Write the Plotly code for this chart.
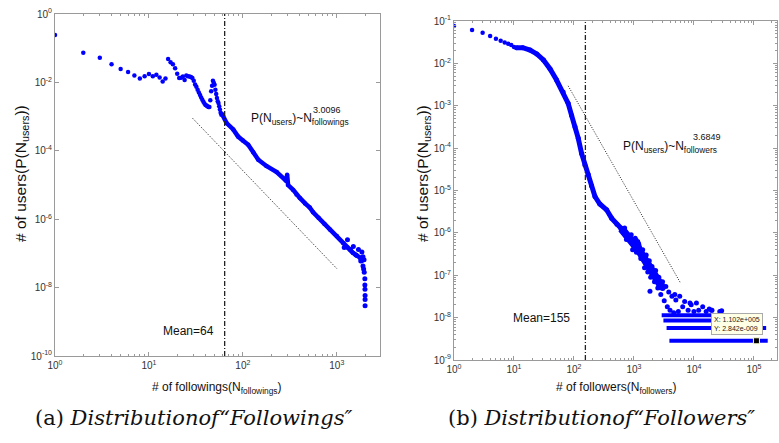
import plotly.graph_objects as go

# ---------------- data: (a) followings ----------------
fw_sparse_x = [1, 2, 3, 4, 5, 6, 7, 8, 9, 10, 11, 12, 13, 14, 15,
               16, 17, 18, 19, 20, 21, 22, 23, 24, 25, 26, 27, 28, 29, 30,
               31, 32, 33, 34, 35, 36, 37, 38, 39, 40, 41, 42, 43, 44,
               45, 46, 47, 48, 49, 50, 51, 52, 53, 54, 55, 56, 57, 58, 59]
fw_sparse_y = [0.245, 0.074, 0.053, 0.034, 0.0245, 0.020, 0.016, 0.0129, 0.0152, 0.0175,
               0.0152, 0.0166, 0.0139, 0.0106, 0.013,
               0.048, 0.039, 0.034, 0.026, 0.018, 0.0134, 0.0136, 0.0149, 0.0117, 0.0159,
               0.0152, 0.0149, 0.0145, 0.0135, 0.0112,
               0.0087, 0.0074, 0.0061, 0.0051, 0.0043, 0.0036, 0.0031, 0.0027, 0.0024, 0.0022,
               0.0021, 0.0020, 0.0019, 0.0019,
               0.0030, 0.0055, 0.0080, 0.0112, 0.0098, 0.0085, 0.0061, 0.0046, 0.0035, 0.0028,
               0.0025, 0.0020, 0.0016, 0.0013, 0.00114]
fw_dense_x = [60, 67, 79, 89, 100, 114, 129, 146, 178, 229, 280, 290, 296, 303, 343, 372,
              404, 460, 515, 560, 640, 740, 843, 1000, 1167, 1300, 1480, 1650, 1758, 1850]
fw_dense_y = [1.2e-3, 6.5e-4, 4.2e-4, 2.6e-4, 2.0e-4, 1.5e-4, 9.0e-5, 5.5e-5, 3.6e-5, 2.4e-5,
              1.45e-5, 1.3e-5, 2.0e-5, 1.0e-5, 7.2e-6, 5.3e-6, 4.2e-6, 2.9e-6, 2.2e-6, 1.6e-6,
              1.1e-6, 7.2e-7, 5.0e-7, 3.2e-7, 2.0e-7, 1.5e-7, 1.05e-7, 8.5e-8, 7.6e-8, 6.0e-8]
fw_tail_x = [1200, 1300, 1400, 1500, 1600, 1700, 1800, 1850, 1900, 1950,
             1900, 1930, 1960, 1990, 1990, 1995, 2000, 2000, 2000]
fw_tail_y = [1.5e-7, 2.5e-7, 1.3e-7, 1.6e-7, 9e-8, 1.3e-7, 6e-8, 1.1e-7, 8e-8, 6.5e-8,
             4.3e-8, 3.5e-8, 2.8e-8, 1.8e-8, 1.2e-8, 8.9e-9, 5.9e-9, 4.5e-9, 2.95e-9]
fw_fit_x = [29, 1000]
fw_fit_y = [9.1e-4, 3.6e-8]
fw_mean = 64

# ---------------- data: (b) followers ----------------
fr_sparse_x = [1, 2, 3, 4, 5, 6, 7, 8, 9, 10]
fr_sparse_y = [0.076, 0.061, 0.053, 0.044, 0.038, 0.034, 0.031, 0.029, 0.027, 0.0245]
fr_dense_x = [11, 14, 18.5, 24, 31, 40, 51, 66, 80, 91, 104, 118, 134, 152, 173, 196,
              224, 270, 350, 426, 520, 620]
fr_dense_y = [0.0235, 0.0234, 0.0207, 0.0167, 0.012, 0.0074, 0.0041, 0.0021, 0.00114, 6.0e-4,
              3.2e-4, 1.7e-4, 7.5e-5, 4.0e-5, 2.4e-5, 1.3e-5, 7.2e-6, 4.8e-6, 3.5e-6, 2.2e-6,
              1.6e-6, 1.25e-6]
fr_tail_x = [620, 708, 800, 912, 1000, 1080, 1135, 1200, 1400, 1630, 1850, 2100, 2500, 3000]
fr_tail_y = [1.25e-6, 1.0e-6, 8.0e-7, 6.3e-7, 5.4e-7, 6.5e-7, 4.5e-7, 4.0e-7, 2.8e-7,
             1.9e-7, 1.4e-7, 1.1e-7, 7.5e-8, 5.0e-8]
fr_cloud_x = [700, 750, 900, 950, 1050, 1100, 1200, 1300, 1400, 1500, 1600, 1700, 1800, 1850,
              1900, 2000, 2200, 2300, 2500, 2600, 2800, 3000, 3200, 3400, 3600, 3800, 4000,
              4300, 4600, 4800, 5000, 5500, 5800, 6500, 7000, 8000, 8600, 9000, 10000, 11000,
              12000, 14000, 16000, 18000, 19600, 20000, 27000, 29000]
fr_cloud_y = [1.3e-6, 7e-7, 9e-7, 4e-7, 7.5e-7, 3.5e-7, 5.5e-7, 2.5e-7, 4e-7, 1.5e-7, 3e-7,
              1.2e-7, 2.2e-7, 4.2e-8, 9e-8, 1.6e-7, 7e-8, 1.3e-7, 5e-8, 9e-8, 3.5e-8, 7e-8,
              2.5e-8, 5.4e-8, 1.8e-8, 4e-8, 1.5e-8, 3.2e-8, 1.3e-8, 3.5e-8, 2.6e-8, 1.4e-8,
              3.2e-8, 1.8e-8, 2.4e-8, 1.5e-8, 2.2e-8, 2e-8, 1.4e-8, 2.2e-8, 1.5e-8, 1.8e-8,
              1.4e-8, 1.6e-8, 1.5e-8, 1.5e-8, 1.4e-8, 1.45e-8]
fr_band_level = [1.137e-8, 8.53e-9, 5.68e-9, 2.842e-9]
fr_band_start = [2900, 3100, 3500, 3900]
fr_band_end = [20000, 110000, 160000, 170000]
fr_pick_x = [1.102e5]
fr_pick_y = [2.842e-9]
fr_fit_x = [80, 6000]
fr_fit_y = [2.95e-3, 6.5e-8]
fr_mean = 155

# ---------------- figure ----------------
W, H = 779, 443
BLUE = "#0000ff"
AX = "#9a9a9a"
FONT = "Liberation Sans, Arial, sans-serif"


def PX(x):
    return x / W


def PY(y):
    return 1 - y / H


fig = go.Figure()

# (a)
fig.add_trace(go.Scatter(x=fw_sparse_x, y=fw_sparse_y, mode="markers",
                         marker=dict(color=BLUE, size=4.5), xaxis="x", yaxis="y"))
fig.add_trace(go.Scatter(x=fw_dense_x, y=fw_dense_y, mode="lines+markers",
                         line=dict(color=BLUE, width=4.5), marker=dict(color=BLUE, size=4.5),
                         xaxis="x", yaxis="y"))
fig.add_trace(go.Scatter(x=fw_tail_x, y=fw_tail_y, mode="markers",
                         marker=dict(color=BLUE, size=5), xaxis="x", yaxis="y"))
fig.add_trace(go.Scatter(x=fw_fit_x, y=fw_fit_y, mode="lines",
                         line=dict(color="#222", width=1, dash="1px,1.5px"), xaxis="x", yaxis="y"))
fig.add_trace(go.Scatter(x=[fw_mean, fw_mean], y=[1e-10, 1], mode="lines",
                         line=dict(color="#222", width=1.3, dash="5px,2px,1px,2px"),
                         xaxis="x", yaxis="y"))

# (b)
fig.add_trace(go.Scatter(x=fr_sparse_x, y=fr_sparse_y, mode="markers",
                         marker=dict(color=BLUE, size=4.5), xaxis="x2", yaxis="y2"))
fig.add_trace(go.Scatter(x=fr_dense_x, y=fr_dense_y, mode="lines+markers",
                         line=dict(color=BLUE, width=5), marker=dict(color=BLUE, size=5),
                         xaxis="x2", yaxis="y2"))
fig.add_trace(go.Scatter(x=fr_tail_x, y=fr_tail_y, mode="lines+markers",
                         line=dict(color=BLUE, width=8), marker=dict(color=BLUE, size=6),
                         xaxis="x2", yaxis="y2"))
fig.add_trace(go.Scatter(x=fr_cloud_x, y=fr_cloud_y, mode="markers",
                         marker=dict(color=BLUE, size=5), xaxis="x2", yaxis="y2"))
for lvl, xs, xe in zip(fr_band_level, fr_band_start, fr_band_end):
    fig.add_trace(go.Scatter(x=[xs, xe], y=[lvl, lvl], mode="lines",
                             line=dict(color=BLUE, width=4), xaxis="x2", yaxis="y2"))
fig.add_trace(go.Scatter(x=fr_fit_x, y=fr_fit_y, mode="lines",
                         line=dict(color="#222", width=1, dash="1px,1.5px"), xaxis="x2", yaxis="y2"))
fig.add_trace(go.Scatter(x=[fr_mean, fr_mean], y=[1e-9, 1e-1], mode="lines",
                         line=dict(color="#222", width=1.3, dash="5px,2px,1px,2px"),
                         xaxis="x2", yaxis="y2"))
fig.add_trace(go.Scatter(x=fr_pick_x, y=fr_pick_y, mode="markers",
                         marker=dict(color="black", size=6, symbol="square",
                                     line=dict(color="#ffffcc", width=1)),
                         xaxis="x2", yaxis="y2"))


def sup(e):
    return "10<sup>%d</sup>" % e


def minor_vals(lo, hi):
    return [m * 10 ** k for k in range(lo, hi) for m in range(2, 10)]


axis_common = dict(type="log", showline=True, linecolor=AX, linewidth=1, mirror="allticks",
                   ticks="inside", ticklen=4, tickcolor=AX, showgrid=False, zeroline=False,
                   automargin=False,
                   tickfont=dict(family=FONT, size=10, color="#333"), tickmode="array")

fig.update_layout(
    width=W, height=H, margin=dict(l=0, r=0, t=0, b=0, autoexpand=False),
    paper_bgcolor="white", plot_bgcolor="white", showlegend=False,
    xaxis=dict(axis_common, domain=[PX(55), PX(380)], range=[0, 3.46], anchor="y",
               tickvals=[1, 10, 100, 1000], ticktext=[sup(e) for e in range(0, 4)],
               minor=dict(ticks="inside", ticklen=2, tickcolor=AX, tickmode="array",
                          tickvals=minor_vals(0, 4))),
    yaxis=dict(axis_common, domain=[PY(356), PY(14)], range=[-10, 0], anchor="x",
               tickvals=[10 ** e for e in range(-10, 1, 2)],
               ticktext=[sup(e) for e in range(-10, 1, 2)]),
    xaxis2=dict(axis_common, domain=[PX(454), PX(777)], range=[0, 5.385], anchor="y2",
                tickvals=[10 ** e for e in range(0, 6)], ticktext=[sup(e) for e in range(0, 6)],
                minor=dict(ticks="inside", ticklen=2, tickcolor=AX, tickmode="array",
                           tickvals=minor_vals(0, 6))),
    yaxis2=dict(axis_common, domain=[PY(360), PY(21)], range=[-9, -1], anchor="x2",
                tickvals=[10 ** e for e in range(-9, 0)], ticktext=[sup(e) for e in range(-9, 0)],
                minor=dict(ticks="inside", ticklen=2, tickcolor=AX, tickmode="array",
                           tickvals=minor_vals(-9, -1))),
)

ann = []


def A(text, x, y, size=12, xanchor="center", yanchor="middle", angle=0, family=FONT, **kw):
    ann.append(dict(text=text, x=PX(x), y=PY(y), xref="paper", yref="paper", showarrow=False,
                    xanchor=xanchor, yanchor=yanchor, textangle=angle,
                    font=dict(family=family, size=size, color=kw.pop("color", "#111")), **kw))


# axis titles
A("# of followings(N<sub>followings</sub>)", 217, 388)
A("# of followers(N<sub>followers</sub>)", 616, 388)
A("# of users(P(N<sub>users</sub>))", 22, 174, size=15.5, angle=-90)
A("# of users(P(N<sub>users</sub>))", 424, 174, size=15.5, angle=-90)

# formulas
A("P(N<sub>users</sub>)~N<sub>followings</sub>", 249, 119, xanchor="left")
A("3.0096", 311, 110, size=9, xanchor="left")
A("P(N<sub>users</sub>)~N<sub>followers</sub>", 621, 147, xanchor="left")
A("3.6849", 691, 137, size=9, xanchor="left")

# mean labels
A("Mean=64", 216, 331, xanchor="right")
A("Mean=155", 572, 318, xanchor="right")

# data tip
A("X: 1.102e+005<br>Y: 2.842e-009", 711, 313, size=7, xanchor="left", yanchor="top",
  bgcolor="#ffffe6", bordercolor="#aaa", borderwidth=1, borderpad=2, align="left",
  color="#222")

# captions
SERIF = "DejaVu Serif, serif"
A("(a) <i>Distributionof\u201cFollowings\u2033</i>", 194, 418, size=21, family=SERIF)
A("(b) <i>Distributionof\u201cFollowers\u2033</i>", 601, 418, size=21, family=SERIF)

fig.update_layout(annotations=ann)
fig.write_html("out.html",
               config={"displayModeBar": False},
               post_script="document.body.style.margin='0px';"
                           "document.body.style.overflow='hidden';")
